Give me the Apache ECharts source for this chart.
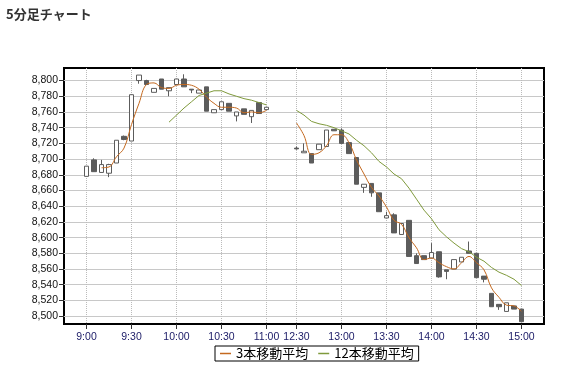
<!DOCTYPE html>
<html><head><meta charset="utf-8">
<script src="https://cdn.jsdelivr.net/npm/echarts@6/dist/echarts.min.js"></script>
<style>html,body{margin:0;padding:0;background:#fff}#c{width:563px;height:365px}</style>
</head><body><div id="c"></div>
<script>
const chartTitle = '5分足チャート';
const seriesNames = ['3本移動平均', '12本移動平均'];

// all axis slots (3 padding slots each side, 3 empty lunch slots)
const slots = ['8:45','8:50','8:55',
  '9:00','9:05','9:10','9:15','9:20','9:25','9:30','9:35','9:40','9:45','9:50','9:55',
  '10:00','10:05','10:10','10:15','10:20','10:25','10:30','10:35','10:40','10:45','10:50','10:55','11:00',
  '11:05','11:10','11:15',
  '12:30','12:35','12:40','12:45','12:50','12:55','13:00','13:05','13:10','13:15','13:20','13:25',
  '13:30','13:35','13:40','13:45','13:50','13:55','14:00','14:05','14:10','14:15','14:20','14:25',
  '14:30','14:35','14:40','14:45','14:50','14:55','15:00',
  '15:05','15:10','15:15'];
const xTickLabels = ['9:00','9:30','10:00','10:30','11:00','12:30','13:00','13:30','14:00','14:30','15:00'];
const yTickValues = [8500,8520,8540,8560,8580,8600,8620,8640,8660,8680,8700,8720,8740,8760,8780,8800];

// candle times
const times = ['9:00','9:05','9:10','9:15','9:20','9:25','9:30','9:35','9:40','9:45','9:50','9:55',
  '10:00','10:05','10:10','10:15','10:20','10:25','10:30','10:35','10:40','10:45','10:50','10:55','11:00',
  '12:30','12:35','12:40','12:45','12:50','12:55','13:00','13:05','13:10','13:15','13:20','13:25',
  '13:30','13:35','13:40','13:45','13:50','13:55','14:00','14:05','14:10','14:15','14:20','14:25',
  '14:30','14:35','14:40','14:45','14:50','14:55','15:00'];
const opens = [8678,8699,8683,8682,8695,8729,8723,8800,8800,8785,8802,8787,
  8795,8802,8789,8784,8792,8759,8763,8771,8755,8764,8754,8772,8763,
  8714,8708,8707,8712,8716,8738,8737,8721,8702,8664,8669,8657,
  8625,8629,8604,8622,8577,8577,8574,8582,8559,8560,8569,8583,
  8580,8551,8529,8515,8506,8513,8509];
const closes = [8691,8684,8693,8693,8724,8725,8782,8807,8795,8790,8789,8791,
  8802,8792,8788,8788,8761,8763,8773,8761,8760,8757,8762,8758,8766,
  8713,8710,8695,8719,8737,8736,8720,8707,8668,8668,8657,8633,
  8628,8606,8618,8576,8567,8572,8581,8550,8557,8572,8575,8580,
  8549,8547,8512,8512,8517,8509,8493];
const lows = [8678,8684,8683,8677,8695,8724,8723,8796,8795,8785,8789,8780,
  8795,8792,8784,8784,8761,8759,8763,8761,8748,8757,8746,8758,8763,
  8712,8708,8695,8712,8716,8736,8720,8707,8668,8657,8652,8633,
  8625,8606,8604,8576,8567,8572,8574,8549,8547,8560,8569,8580,
  8549,8543,8512,8508,8506,8509,8493];
const highs = [8691,8701,8699,8694,8724,8730,8782,8807,8801,8790,8802,8791,
  8802,8808,8789,8788,8792,8763,8773,8771,8760,8764,8762,8772,8766,
  8716,8720,8707,8719,8737,8738,8739,8721,8702,8668,8669,8657,
  8633,8631,8618,8622,8580,8577,8593,8582,8559,8572,8575,8595,
  8580,8551,8529,8515,8517,8513,8509];
const ma3 = [null,null,8689,8690,8703,8714,8744,8771,8795,8797,8791,8790,
  8794,8795,8794,8789,8779,8771,8766,8766,8765,8759,8760,8759,8762,
  8746,8730,8706,8708,8717,8731,8731,8721,8699,8681,8664,8653,
  8639,8622,8617,8600,8587,8572,8574,8568,8563,8560,8568,8576,
  8568,8559,8536,8524,8514,8513,8506];
const ma12 = [null,null,null,null,null,null,null,null,null,null,null,8747,
  8756,8765,8773,8781,8784,8787,8787,8783,8780,8777,8775,8772,8769,
  8762,8756,8748,8745,8743,8740,8736,8732,8724,8717,8708,8697,
  8690,8681,8675,8663,8649,8635,8624,8610,8601,8593,8586,8582,
  8575,8570,8562,8556,8552,8547,8539];

const idx = s => times.indexOf(s);
const candleData = slots.map(s => { const i = idx(s); return i < 0 ? '-' : [opens[i], closes[i], lows[i], highs[i]]; });
const ma3Data = slots.map(s => { const i = idx(s); return (i < 0 || ma3[i] == null) ? '-' : ma3[i]; });
const ma12Data = slots.map(s => { const i = idx(s); return (i < 0 || ma12[i] == null) ? '-' : ma12[i]; });
const showTick = (i, v) => xTickLabels.indexOf(slots[i]) >= 0;

const chart = echarts.init(document.getElementById('c'), null, {renderer: 'canvas'});
chart.setOption({
  animation: false,
  backgroundColor: '#fff',
  title: {text: chartTitle, left: 1, top: 3,
    textStyle: {fontSize: 13, fontWeight: 'bold', color: '#333', fontFamily: 'Noto Sans CJK JP'}},
  legend: {
    data: seriesNames, left: 215, top: 346, icon: 'rect', itemWidth: 11, itemHeight: 1.5, itemGap: 10,
    borderColor: '#000', borderWidth: 1, padding: [1, 5, 1, 5], borderRadius: 0,
    textStyle: {fontSize: 13, color: '#000', fontFamily: 'Noto Sans CJK JP', lineHeight: 13}
  },
  grid: {left: 64, top: 68, width: 480, height: 256, show: true, borderColor: '#000', borderWidth: 2, backgroundColor: '#fff'},
  xAxis: {
    type: 'category', data: slots, boundaryGap: false,
    axisLine: {show: false},
    axisTick: {show: true, interval: showTick, length: 5, lineStyle: {color: '#333'}},
    axisLabel: {interval: showTick, color: '#1a1a66', fontSize: 10.5, fontFamily: 'Liberation Sans', margin: 8},
    splitLine: {show: true, interval: showTick, lineStyle: {color: '#bbb', type: 'dotted', width: 1}}
  },
  yAxis: {
    type: 'value', min: 8490, max: 8816, scale: true,
    axisLine: {show: false},
    axisTick: {show: true, customValues: yTickValues, length: 5, lineStyle: {color: '#333'}},
    axisLabel: {customValues: yTickValues, color: '#111', fontSize: 10.5, fontFamily: 'Liberation Sans', margin: 6,
      formatter: v => v.toLocaleString('en-US')},
    splitLine: {show: true, lineStyle: {color: '#c8c8c8', width: 1}}
  },
  series: [
    {type: 'candlestick', data: candleData, barWidth: 5,
      itemStyle: {color: '#ffffff', color0: '#5c5c5c', borderColor: '#5c5c5c', borderColor0: '#5c5c5c', borderWidth: 1}},
    {name: seriesNames[0], type: 'line', data: ma3Data, smooth: 0.4, showSymbol: false, symbol: 'none',
      lineStyle: {color: '#c4691f', width: 1}, itemStyle: {color: '#c4691f'}},
    {name: seriesNames[1], type: 'line', data: ma12Data, smooth: false, showSymbol: false, symbol: 'none',
      lineStyle: {color: '#7f9a3c', width: 1}, itemStyle: {color: '#7f9a3c'}}
  ]
});
</script></body></html>
